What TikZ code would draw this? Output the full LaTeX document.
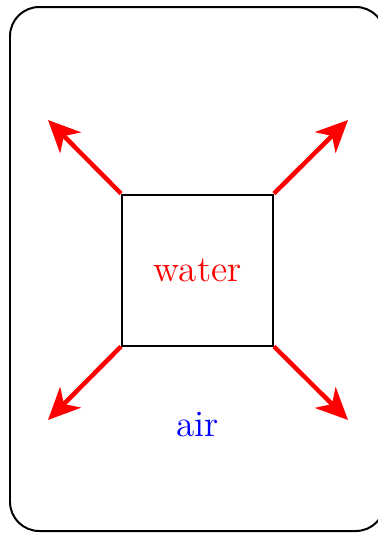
\documentclass[tikz,border=0pt]{standalone}
\usetikzlibrary{arrows.meta}
\begin{document}
\begin{tikzpicture}[x=0.01325cm,y=-0.01325cm,
  boxline/.style={draw=black,line width=0.75pt},
  outflow/.style={draw=red,line width=1.7pt,-{Stealth[length=12pt,width=11pt,inset=3.5pt]}},
  lbl/.style={font=\fontsize{14}{16}\selectfont}]
\useasboundingbox (0,0) rectangle (378,534);
\draw[boxline,rounded corners=11pt] (10,7) rectangle (385,531);
\node[boxline,minimum size=151*0.01325cm,inner sep=0pt] (sq) at (197.5,270) {};
\node[lbl,text=red] (w) at (197.5,270) {water};
\node[lbl,text=blue] (a) at (197.5,425) {air};
\coordinate (t1) at (48,120);
\coordinate (t2) at (348,120);
\coordinate (t3) at (48,420);
\coordinate (t4) at (348,420);
\draw[outflow] (sq.north west) -- (t1);
\draw[outflow] (sq.north east) -- (t2);
\draw[outflow] (sq.south west) -- (t3);
\draw[outflow] (sq.south east) -- (t4);
\end{tikzpicture}
\end{document}
